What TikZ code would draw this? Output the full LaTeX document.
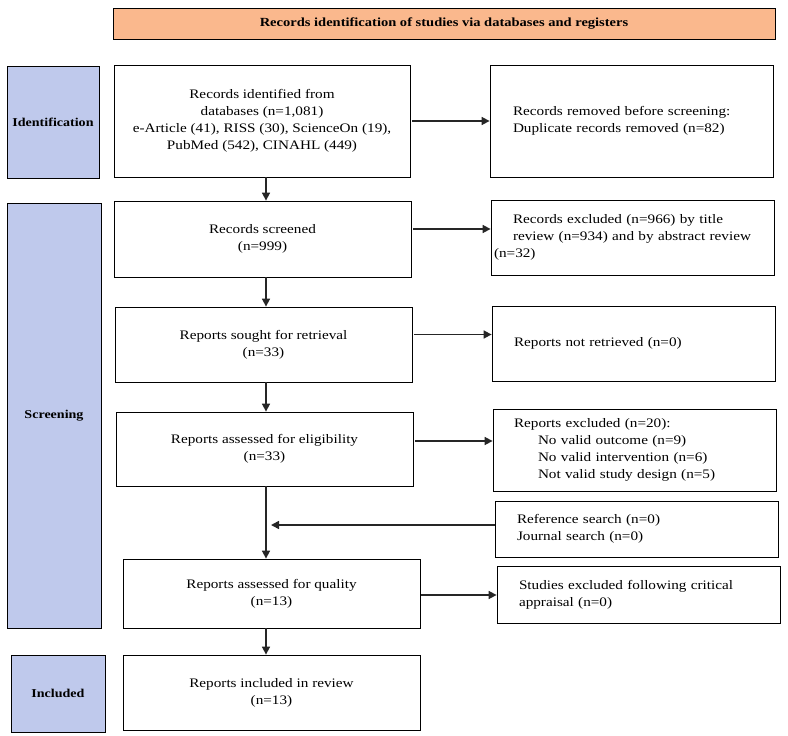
\documentclass[tikz,border=0pt]{standalone}
\usepackage{fontspec}
\setmainfont{Liberation Serif}[FakeStretch=1.17]
\usetikzlibrary{arrows.meta}
\definecolor{lblblue}{RGB}{191,201,236}
\definecolor{banorange}{RGB}{250,184,141}
\begin{document}
\begin{tikzpicture}[x=1pt,y=-1pt,
  every node/.style={font=\fontsize{13}{17}\selectfont},
  base/.style={draw=black,line width=0.8pt,inner sep=0pt},
  cbox/.style={base,align=center},
  lbl/.style={base,fill=lblblue,align=center,font=\fontsize{12}{15}\selectfont\bfseries},
  rbox/.style={base,align=left},
  arr/.style={line width=1.6pt,draw=black!85,-{Triangle[length=8pt,width=8pt]}}]
\useasboundingbox (0,0) rectangle (788,736);
% banner
\node[base,fill=banorange,minimum width=662pt,minimum height=31pt,font=\fontsize{12.4}{15}\selectfont\bfseries] (ban) at (444,23.5) {Records identification of studies via databases and registers};
% labels
\node[lbl,minimum width=92pt,minimum height=112pt] (idl) at (53,122) {Identification};
\node[lbl,minimum width=94pt,minimum height=425pt] (scrl) at (54,415.5) {Screening};
\node[lbl,minimum width=94pt,minimum height=77pt] (incl) at (58,693.5) {Included};
% centre boxes
\node[cbox,minimum width=296pt,minimum height=112pt] (id) at (262,121) {Records identified from\\databases (n=1,081)\\e-Article (41), RISS (30), ScienceOn (19),\\PubMed (542), CINAHL (449)};
\node[cbox,minimum width=297pt,minimum height=76pt] (scr) at (262.5,239) {Records screened\\(n=999)};
\node[cbox,minimum width=297pt,minimum height=75pt] (sought) at (263.5,344.5) {Reports sought for retrieval\\(n=33)};
\node[cbox,minimum width=297pt,minimum height=74pt] (elig) at (264.5,449) {Reports assessed for eligibility\\(n=33)};
\node[cbox,minimum width=297pt,minimum height=69pt] (qual) at (271.5,593.5) {Reports assessed for quality\\(n=13)};
\node[cbox,minimum width=297pt,minimum height=75pt] (rinc) at (271.5,692.5) {Reports included in review\\(n=13)};
% right boxes
\node[rbox,inner xsep=23pt,text width=237pt,minimum height=112pt] (rem) at (631.5,121) {Records removed before screening:\\Duplicate records removed (n=82)};
\node[rbox,inner xsep=3pt,text width=277pt,minimum height=75pt] (excl) at (632.5,237.5) {\hspace*{19pt}Records excluded (n=966) by title\\\hspace*{19pt}review (n=934) and by abstract review\\(n=32)};
\node[rbox,inner xsep=22pt,text width=239pt,minimum height=75pt] (notr) at (633.5,343.5) {Reports not retrieved (n=0)};
\node[rbox,inner xsep=21pt,text width=241pt,minimum height=82pt] (rexcl) at (634.5,450) {Reports excluded (n=20):\\\hspace*{24pt}No valid outcome (n=9)\\\hspace*{24pt}No valid intervention (n=6)\\\hspace*{24pt}Not valid study design (n=5)};
\node[rbox,inner xsep=22pt,text width=239pt,minimum height=56pt] (ref) at (636.5,529) {Reference search (n=0)\\Journal search (n=0)};
\node[rbox,inner xsep=22pt,text width=239pt,minimum height=57pt] (stud) at (638.5,594.5) {Studies excluded following critical\\appraisal (n=0)};
% vertical arrows
\coordinate (ax) at (266,0);
\draw[arr] (id.south -| ax) -- (scr.north -| ax);
\draw[arr] (scr.south -| ax) -- (sought.north -| ax);
\draw[arr] (sought.south -| ax) -- (elig.north -| ax);
\draw[arr] (elig.south -| ax) -- (qual.north -| ax);
\draw[arr] (qual.south -| ax) -- (rinc.north -| ax);
% horizontal arrows
\draw[arr] ([xshift=2pt]id.east) -- (rem.west);
\draw[arr] ([xshift=2pt,yshift=10pt]scr.east) -- ([yshift=10pt]scr.east -| excl.west);
\draw[arr] ([xshift=2pt,yshift=10pt]sought.east) -- ([yshift=10pt]sought.east -| notr.west);
\draw[arr] ([xshift=2pt,yshift=8pt]elig.east) -- ([yshift=8pt]elig.east -| rexcl.west);
\draw[arr] ([xshift=1pt,yshift=-1.5pt]qual.east) -- ([yshift=-1.5pt]qual.east -| stud.west);
\coordinate (refend) at ([xshift=5pt]ax |- ref.west);
\draw[arr] ([yshift=4pt]ref.west) -- ([yshift=4pt]refend);
\end{tikzpicture}
\end{document}
